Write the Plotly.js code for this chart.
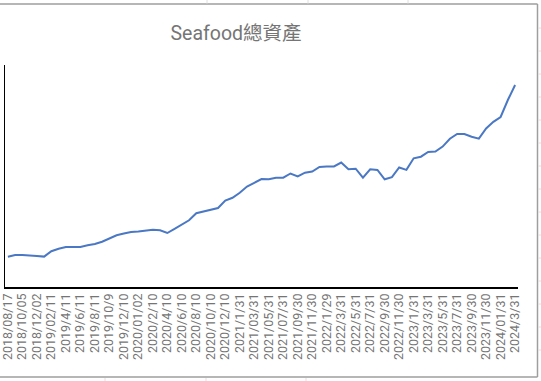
<!DOCTYPE html>
<html>
<head>
<meta charset="utf-8">
<script src="https://cdn.plot.ly/plotly-3.0.1.min.js"></script>
<style>html,body{margin:0;padding:0;background:#fff;}#chart{width:541px;height:381px;}</style>
</head>
<body>
<div id="chart"></div>
<script>
const chartTitle = "Seafood總資產";
const tickLabels = ["2018/08/17","2018/10/05","2018/12/02","2019/02/11","2019/4/11","2019/6/11","2019/8/11","2019/10/9","2019/12/10","2020/01/02","2020/2/10","2020/4/10","2020/6/10","2020/8/10","2020/10/10","2020/12/10","2021/1/31","2021/03/31","2021/05/31","2021/07/31","2021/09/30","2021/11/30","2022/1/29","2022/3/31","2022/5/31","2022/7/31","2022/9/30","2022/11/30","2023/1/31","2023/3/31","2023/5/31","2023/7/31","2023/9/30","2023/11/30","2024/01/31","2024/3/31"];
const totalAssets = [30.3,32,31.9,31.7,31,30.4,35.8,38.2,40,40,40.1,41.8,43,45.3,48.2,51.7,53.5,55.1,55.6,56.3,57.2,56.7,54,58.1,62.3,66.7,73.8,75.5,77.7,79,86.4,89.2,94.2,100.4,104.2,108,107.8,109.3,109.3,113.5,110.5,114.3,115.5,120,120.6,120.6,124.5,117.7,118.3,109.3,117.7,117,107.7,109.8,119.5,117.1,128.7,130.3,135,135.4,140.4,148.3,153,153,150.2,148.4,158.5,165.2,170,187,202];

const xIdx = totalAssets.map((_, i) => i);
const tickVals = tickLabels.map((_, i) => i * 2);

// frame helpers in paper coords (plot: x 5..518 px, y 65..287 px)
const px = v => (v - 5) / 513;
const py = v => (287 - v) / 222;
const frameColor = "#9e9e9e";
const gridColor = "#e0e0e0";
const shapes = [
  {type:"line", xref:"paper", yref:"paper", x0:px(0), x1:px(537.5), y0:py(4), y1:py(4), line:{color:frameColor,width:1.5}},
  {type:"line", xref:"paper", yref:"paper", x0:px(537.5), x1:px(537.5), y0:py(4), y1:py(377), line:{color:frameColor,width:1.5}},
  {type:"line", xref:"paper", yref:"paper", x0:px(0), x1:px(537.5), y0:py(377), y1:py(377), line:{color:frameColor,width:1.5}}
];
[28, 51, 74, 97, 120, 143, 166, 189, 212, 235, 258, 281, 304, 327, 350].forEach(y => {
  shapes.push({type:"line", xref:"paper", yref:"paper", x0:px(538), x1:px(541), y0:py(y), y1:py(y), line:{color:gridColor,width:1}});
});
[207, 308, 408].forEach(x => {
  shapes.push({type:"line", xref:"paper", yref:"paper", x0:px(x), x1:px(x), y0:py(0), y1:py(3.5), line:{color:gridColor,width:1}});
  shapes.push({type:"line", xref:"paper", yref:"paper", x0:px(x-102), x1:px(x-102), y0:py(378), y1:py(381), line:{color:gridColor,width:1}});
});

const trace = {
  x: xIdx, y: totalAssets, type: "scatter", mode: "lines",
  line: {color: "#4a78c4", width: 2}, hoverinfo: "skip"
};

const layout = {
  width: 541, height: 381,
  margin: {l: 5, r: 23, t: 65, b: 94, pad: 0},
  paper_bgcolor: "#ffffff", plot_bgcolor: "#ffffff",
  showlegend: false,
  title: {text: chartTitle, x: 236/541, xref: "container", xanchor: "center", y: 1 - 33/381, yref: "container", yanchor: "middle",
          font: {family: "Roboto, 'Noto Sans CJK TC', sans-serif", size: 19.5, color: "#757575"}},
  xaxis: {
    range: [-0.4, 70.4], tickvals: tickVals, ticktext: tickLabels, tickangle: -90,
    showgrid: false, zeroline: false, showline: true, linecolor: "#000000", linewidth: 1.5,
    ticks: "", ticklen: 0, automargin: false, ticklabeloverflow: "allow",
    tickfont: {family: "Roboto, Arial, sans-serif", size: 12.5, color: "#757575"}
  },
  yaxis: {
    range: [0, 222], showgrid: false, zeroline: false, showline: true, linecolor: "#000000", linewidth: 1.5,
    showticklabels: false, ticks: "", automargin: false
  },
  shapes: shapes
};

Plotly.newPlot("chart", [trace], layout, {staticPlot: true, displayModeBar: false});
</script>
</body>
</html>
